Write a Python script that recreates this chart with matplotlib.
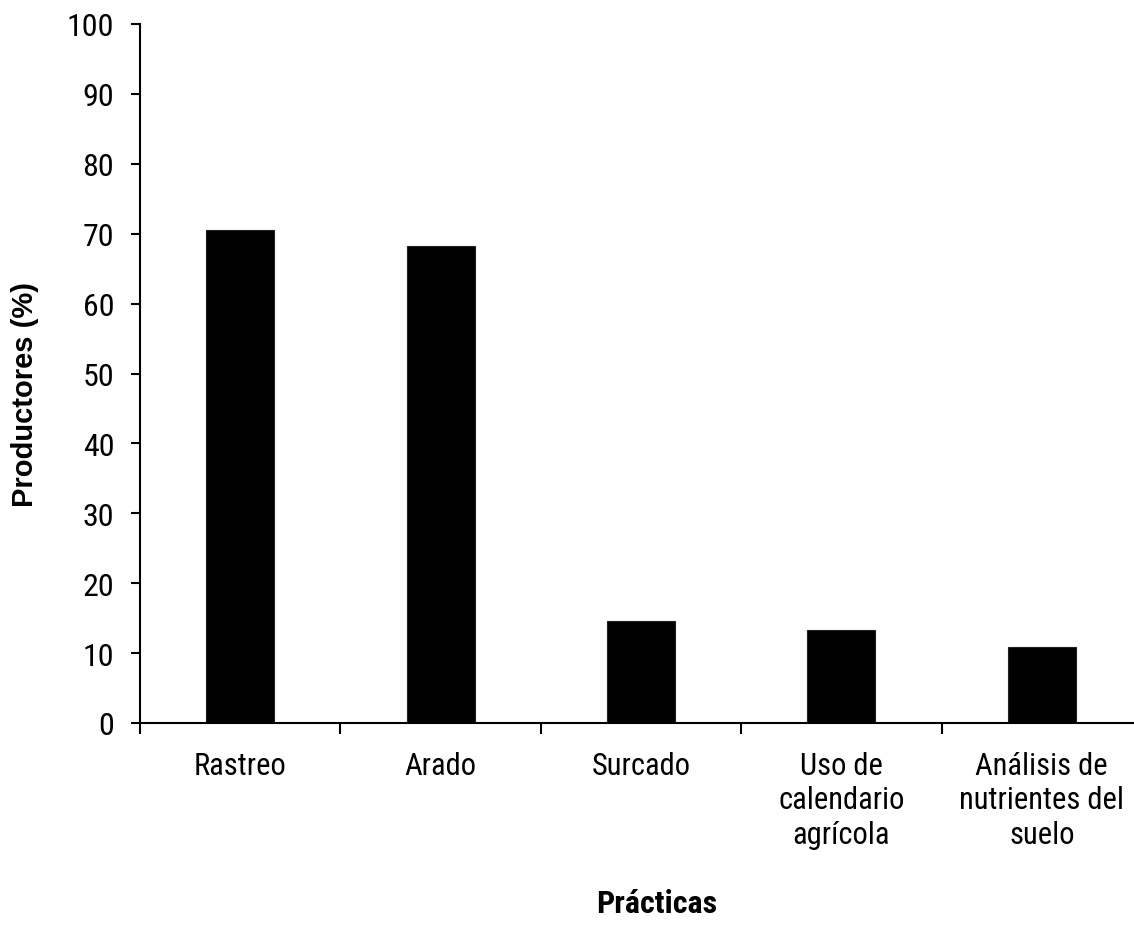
import matplotlib
matplotlib.use("Agg")
import os
import matplotlib.pyplot as plt
from matplotlib import font_manager
from matplotlib.font_manager import FontProperties
from matplotlib.ticker import FixedLocator, NullFormatter

categories = ["Rastreo", "Arado", "Surcado", "Uso de\ncalendario\nagrícola",
              "Análisis de\nnutrientes del\nsuelo"]
values = [70.5, 68.2, 14.6, 13.3, 10.9]
yticks = [0, 10, 20, 30, 40, 50, 60, 70, 80, 90, 100]


def find_condensed(bold):
    prefs = ["Liberation Sans Narrow", "Arial Narrow", "Roboto Condensed",
             "Noto Sans Condensed", "Open Sans Condensed", "Roboto", "Noto Sans", "Open Sans"]
    cands = []
    for f in font_manager.fontManager.ttflist:
        base = os.path.basename(f.fname)
        if not ("Narrow" in base or "Condensed" in base or "Narrow" in f.name
                or "Condensed" in f.name):
            continue
        if "Semi" in base or "Extra" in base or "Italic" in base or "Oblique" in base:
            continue
        w = f.weight if isinstance(f.weight, int) else (700 if "old" in str(f.weight) else 400)
        isbold = w >= 600 or "Bold" in base
        if isbold != bold:
            continue
        if (not bold) and ("Light" in base or "Thin" in base or "Medium" in base or "Black" in base):
            continue
        for i, p in enumerate(prefs):
            if f.name.startswith(p.split()[0]) and (p.split()[0] in f.name):
                cands.append((i, f.fname))
                break
    if cands:
        cands.sort()
        return FontProperties(fname=cands[0][1])
    return None


reg = find_condensed(False)
bld = find_condensed(True)
if reg is None:
    reg = FontProperties(family="Liberation Sans")
if bld is None:
    bld = FontProperties(family="Liberation Sans", weight="bold")

W, H = 1134, 928
fig = plt.figure(figsize=(W / 100, H / 100), dpi=100)
ax = fig.add_axes([140 / W, 1 - 724 / H, (1142 - 140) / W, (724 - 25) / H])

x = list(range(len(categories)))
ax.bar(x, values, width=0.34, color="black", edgecolor="#222222", linewidth=0.8)

ax.set_xlim(-0.5, len(categories) - 0.5)
ax.set_ylim(0, 100)
ax.set_yticks(yticks)
ax.set_yticklabels([str(v) for v in yticks])
for t in ax.get_yticklabels():
    t.set_fontproperties(reg)
    t.set_fontsize(23)

ax.set_xticks(x)
ax.set_xticklabels(categories, linespacing=1.24, va="top")
for t in ax.get_xticklabels():
    t.set_fontproperties(reg)
    t.set_fontsize(22)
ax.xaxis.set_minor_locator(FixedLocator([i - 0.5 for i in range(len(categories) + 1)]))
ax.xaxis.set_minor_formatter(NullFormatter())
ax.tick_params(axis="x", which="major", length=0, pad=20)
ax.tick_params(axis="x", which="minor", length=8, width=1.5, direction="out", color="black")
ax.tick_params(axis="y", which="major", length=6.5, width=1.5, direction="out", pad=12)

for s in ["top", "right"]:
    ax.spines[s].set_visible(False)
for s in ["left", "bottom"]:
    ax.spines[s].set_linewidth(1.5)
    ax.spines[s].set_color("black")

fig.text(25 / W, 1 - 395 / H, "Productores (%)", rotation=90, ha="center", va="center",
         family=["Liberation Sans", "DejaVu Sans"], fontweight="bold", fontsize=21)
t2 = fig.text(657 / W, 1 - 904 / H, "Prácticas", ha="center", va="center")
t2.set_fontproperties(bld)
t2.set_fontsize(23)

fig.savefig("out.png", dpi=100, facecolor="white")
